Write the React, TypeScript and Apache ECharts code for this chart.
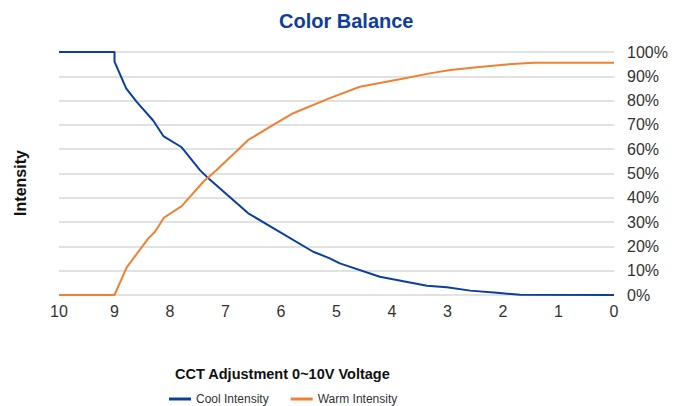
import React, { useEffect, useRef } from "react";
import * as echarts from "echarts";

const xTicks = [0, 1, 2, 3, 4, 5, 6, 7, 8, 9, 10];
const yTicks = [0, 10, 20, 30, 40, 50, 60, 70, 80, 90, 100];

const coolVoltage = [10, 9, 9, 8.79, 8.6, 8.3, 8.12, 7.79, 7.46, 7.34, 6.59, 5.42, 5.12, 4.94, 4.22, 3.37, 3.01, 2.59, 2.11, 1.69, 0];
const coolValues = [100, 100, 96, 85, 79.5, 71.7, 65.4, 60.8, 51.4, 48.7, 33.6, 17.8, 15.1, 13, 7.5, 3.8, 3.2, 1.8, 0.9, 0.1, 0];

const warmVoltage = [10, 9, 8.78, 8.39, 8.27, 8.11, 7.79, 7.4, 7.16, 6.59, 6.14, 5.78, 5.12, 4.58, 3.86, 3.32, 2.95, 2.47, 1.99, 1.45, 0];
const warmValues = [0, 0, 11.4, 23.3, 26, 31.8, 36.6, 46.6, 51.4, 63.8, 70, 74.8, 81, 85.7, 88.8, 91.2, 92.6, 93.7, 94.8, 95.6, 95.6];

const FONT = "'Liberation Sans Narrow', 'Arial Narrow', 'Liberation Sans', sans-serif";

export default function App() {
  const ref = useRef<HTMLDivElement>(null);
  useEffect(() => {
    if (!ref.current) return;
    const chart = echarts.init(ref.current, undefined, { renderer: "svg" });
    chart.setOption({
      animation: false,
      title: [
        {
          text: "Color Balance",
          left: 274,
          top: 6,
          textStyle: { color: "#0f3d9f", fontSize: 20, fontWeight: "bold", fontFamily: FONT },
        },
        {
          text: "CCT Adjustment 0~10V Voltage",
          left: 170,
          top: 361,
          textStyle: { color: "#111", fontSize: 14.5, fontWeight: "bold", fontFamily: FONT },
        },
      ],
      grid: { left: 59, right: 60, top: 52, bottom: 111, containLabel: false },
      legend: {
        top: 388,
        left: 164,
        itemWidth: 22,
        itemHeight: 3,
        itemGap: 22,
        icon: "rect",
        textStyle: { fontSize: 12, color: "#333", fontFamily: FONT },
        data: ["Cool Intensity", "Warm Intensity"],
      },
      xAxis: {
        type: "value",
        inverse: true,
        min: xTicks[0],
        max: xTicks[xTicks.length - 1],
        interval: 1,
        axisLine: { show: false },
        axisTick: { show: false },
        splitLine: { show: false },
        axisLabel: { fontSize: 16, color: "#333", margin: 8, fontFamily: FONT, verticalAlign: "top" },
      },
      yAxis: {
        type: "value",
        position: "right",
        min: yTicks[0],
        max: yTicks[yTicks.length - 1],
        interval: 10,
        axisLine: { show: false },
        axisTick: { show: false },
        splitLine: { lineStyle: { color: "#d9d9d9", width: 1.5 } },
        axisLabel: { fontSize: 16, color: "#333", margin: 13, fontFamily: FONT, formatter: "{value}%" },
      },
      graphic: [
        {
          type: "text",
          x: 20,
          y: 183,
          rotation: Math.PI / 2,
          style: {
            text: "Intensity",
            fontSize: 16,
            fontWeight: "bold",
            fill: "#111",
            fontFamily: FONT,
            align: "center",
            verticalAlign: "middle",
          },
        },
      ],
      series: [
        {
          name: "Cool Intensity",
          type: "line",
          showSymbol: false,
          symbol: "none",
          lineStyle: { color: "#0b3ea3", width: 2 },
          itemStyle: { color: "#0b3ea3" },
          data: coolVoltage.map((v, i) => [v, coolValues[i]]),
        },
        {
          name: "Warm Intensity",
          type: "line",
          showSymbol: false,
          symbol: "none",
          lineStyle: { color: "#f08033", width: 2 },
          itemStyle: { color: "#f08033" },
          data: warmVoltage.map((v, i) => [v, warmValues[i]]),
        },
      ],
    });
    return () => chart.dispose();
  }, []);
  return <div ref={ref} style={{ position: "absolute", left: 0, top: 0, width: 674, height: 406 }} />;
}
